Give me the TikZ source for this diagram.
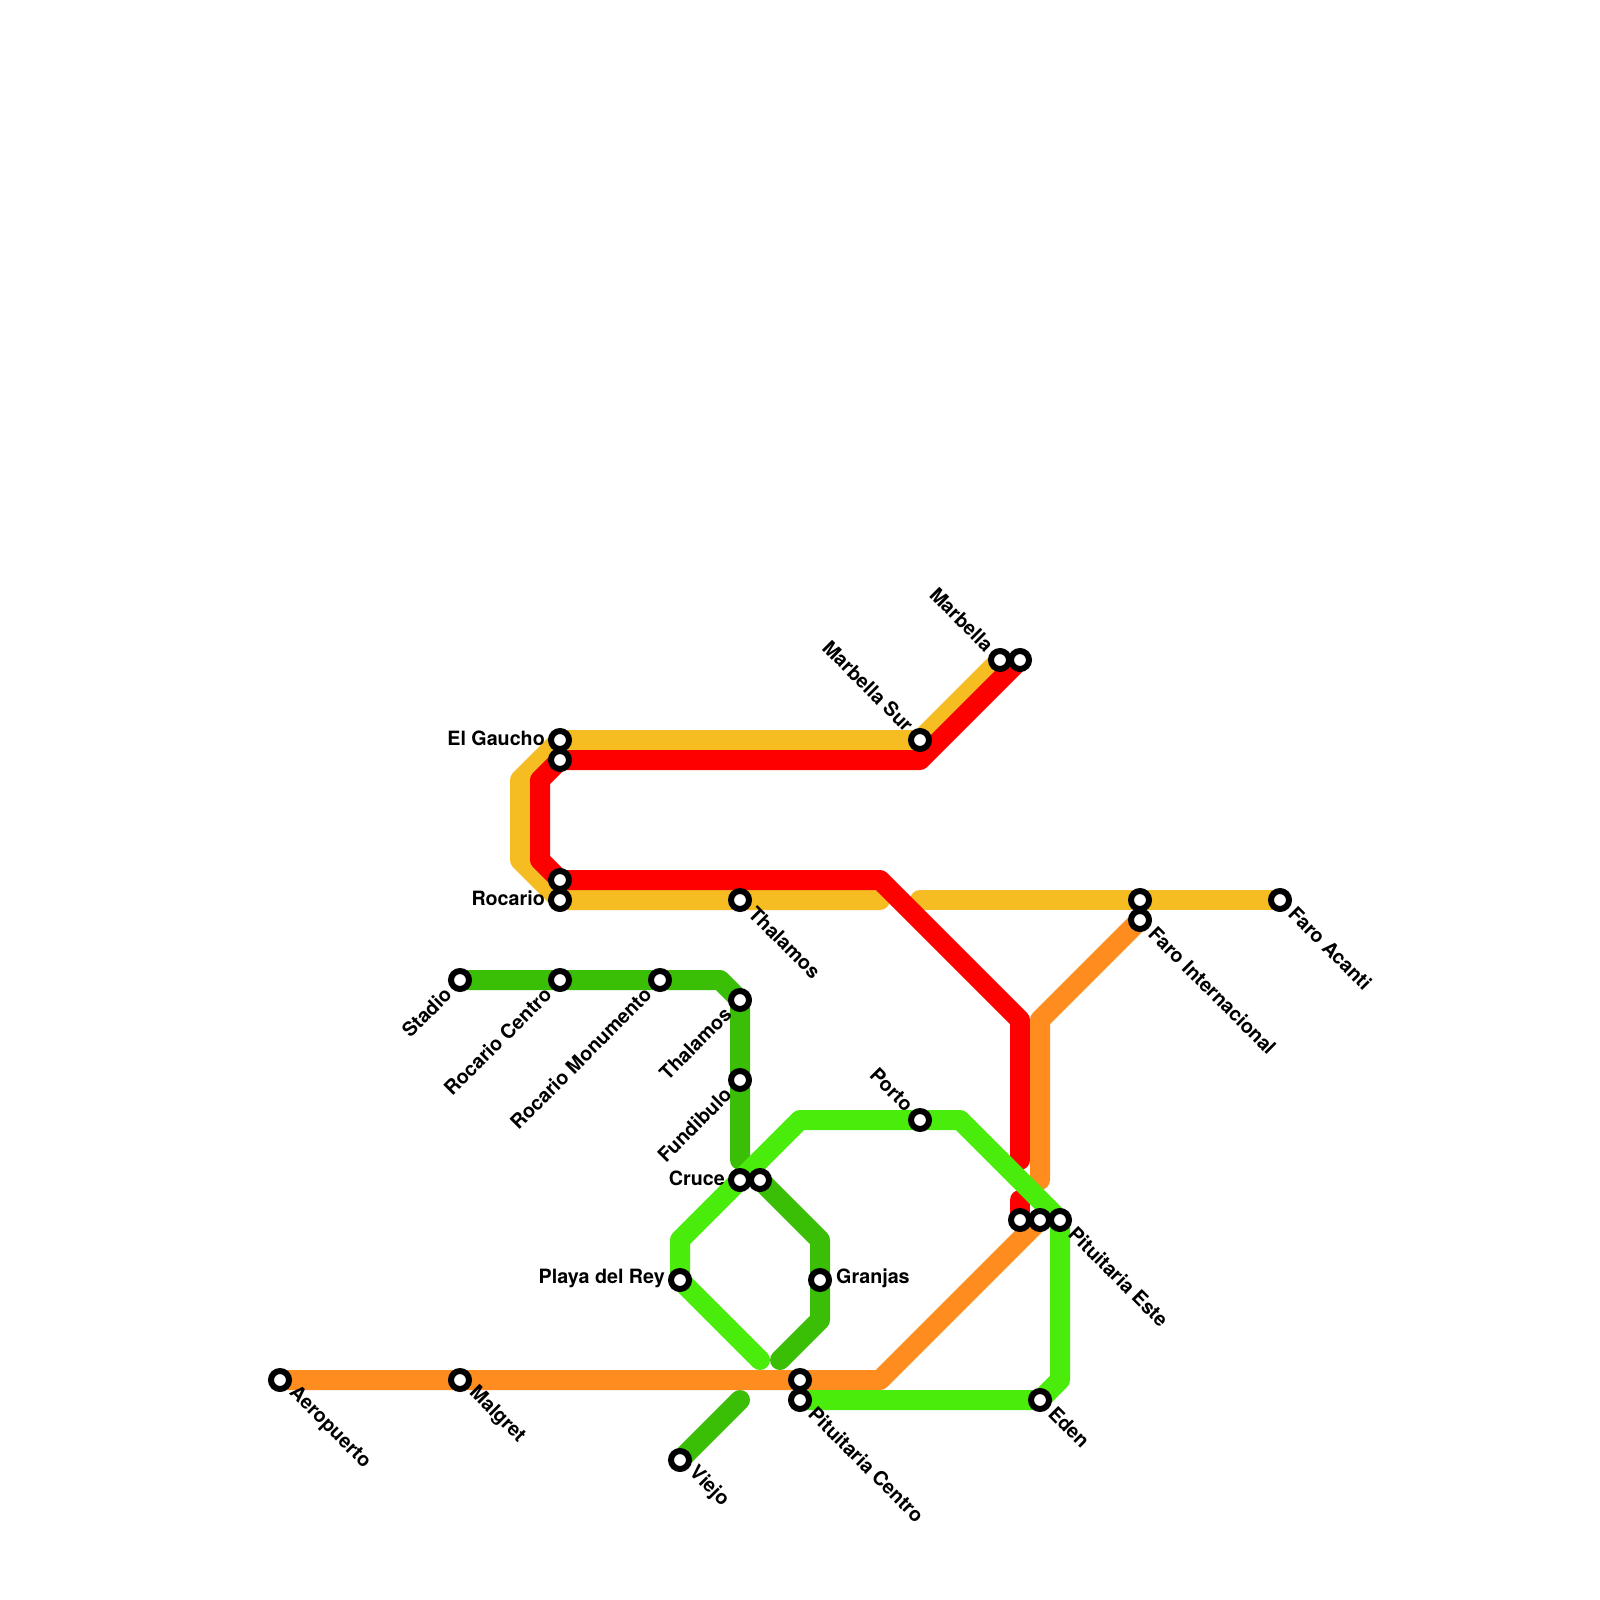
\documentclass[tikz,border=0pt]{standalone}
\usepackage{fontspec}
\setmainfont{TeX Gyre Heros}
\definecolor{lnyellow}{HTML}{F6BD22}
\definecolor{lnred}{HTML}{FF0000}
\definecolor{lnorange}{HTML}{FF8C1F}
\definecolor{lndark}{HTML}{3ABF06}
\definecolor{lnlight}{HTML}{4AEC0B}
\tikzset{
  metro/.style={line width=20pt,line cap=round,line join=round},
  stn/.style={circle,draw=black,fill=white,line width=6pt,minimum size=18pt,inner sep=0pt},
  lbl/.style={text=black,inner sep=0pt,font=\fontsize{19.7}{20}\selectfont\bfseries},
  lblse/.style={lbl,xshift=12pt,yshift=-10pt,rotate=-45,anchor=west},
  lblsw/.style={lbl,xshift=-12pt,yshift=-11pt,rotate=45,anchor=east},
  lblnw/.style={lbl,xshift=-10pt,yshift=12pt,rotate=-45,anchor=east},
  lble/.style={lbl,anchor=west,xshift=16pt,yshift=1.5pt},
  lblw/.style={lbl,anchor=east,xshift=-15pt,yshift=1.5pt}
}
\begin{document}
\begin{tikzpicture}[x=1pt,y=-1pt]
\fill[white] (0,0) rectangle (1600,1600);
\useasboundingbox (0,0) rectangle (1600,1600);
% stations
\coordinate (gaucho) at (560,740);
\coordinate (gauchob) at (560,760);
\coordinate (rocarioa) at (560,880);
\coordinate (rocario) at (560,900);
\coordinate (thal) at (740,900);
\coordinate (stadio) at (460,980);
\coordinate (rcentro) at (560,980);
\coordinate (rmonu) at (660,980);
\coordinate (thalb) at (740,1000);
\coordinate (fund) at (740,1080);
\coordinate (cruce) at (740,1180);
\coordinate (cruceb) at (760,1180);
\coordinate (playa) at (680,1280);
\coordinate (granjas) at (820,1280);
\coordinate (porto) at (920,1120);
\coordinate (msur) at (920,740);
\coordinate (marb) at (1000,660);
\coordinate (marbb) at (1020,660);
\coordinate (pesta) at (1020,1220);
\coordinate (pestb) at (1040,1220);
\coordinate (peste) at (1060,1220);
\coordinate (farob) at (1140,900);
\coordinate (faroi) at (1140,920);
\coordinate (faroa) at (1280,900);
\coordinate (aero) at (280,1380);
\coordinate (malgret) at (460,1380);
\coordinate (pcena) at (800,1380);
\coordinate (pcen) at (800,1400);
\coordinate (eden) at (1040,1400);
\coordinate (viejo) at (680,1460);
% bends and free ends
\coordinate (ya) at (520,780);
\coordinate (yb) at (520,860);
\coordinate (yc) at (880,900);
\coordinate (yd) at (920,900);
\coordinate (ra) at (540,780);
\coordinate (rb) at (540,860);
\coordinate (rc) at (880,880);
\coordinate (rd) at (1020,1020);
\coordinate (re) at (1020,1160);
\coordinate (rf) at (1020,1200);
\coordinate (rg) at (920,760);
\coordinate (oa) at (1040,1020);
\coordinate (ob) at (1040,1180);
\coordinate (oc) at (880,1380);
\coordinate (da) at (720,980);
\coordinate (db) at (740,1160);
\coordinate (dc) at (820,1240);
\coordinate (dd) at (820,1320);
\coordinate (de) at (780,1360);
\coordinate (df) at (740,1400);
\coordinate (la) at (760,1360);
\coordinate (lb) at (680,1240);
\coordinate (lc) at (800,1120);
\coordinate (ld) at (960,1120);
\coordinate (le) at (1060,1380);
% lines
\draw[metro,lnyellow] (marb) -- (msur) -- (gaucho) -- (ya) -- (yb) -- (rocario) -- (yc);
\draw[metro,lnyellow] (yd) -- (faroa);
\draw[metro,lndark] (stadio) -- (da) -- (thalb) -- (db);
\draw[metro,lndark] (cruceb) -- (dc) -- (dd) -- (de);
\draw[metro,lndark] (df) -- (viejo);
\draw[metro,lnred] (marbb) -- (rg) -- (gauchob) -- (ra) -- (rb) -- (rocarioa) -- (rc) -- (rd) -- (re);
\draw[metro,lnred] (rf) -- (pesta);
\draw[metro,lnorange] (faroi) -- (oa) -- (ob);
\draw[metro,lnorange] (pestb) -- (oc) -- (aero);
\draw[metro,lnlight] (la) -- (playa) -- (lb) -- (lc) -- (ld) -- (peste) -- (le) -- (eden) -- (pcen);
% station markers
\foreach \s in {gaucho,gauchob,rocarioa,rocario,thal,stadio,rcentro,rmonu,thalb,fund,cruce,cruceb,playa,granjas,porto,msur,marb,marbb,pesta,pestb,peste,farob,faroi,faroa,aero,malgret,pcena,pcen,eden,viejo}
  \node[stn] (m\s) at (\s) {};
% labels
\node[lblw] (tgaucho) at (gaucho) {El Gaucho};
\node[lblw] (trocario) at (rocario) {Rocario};
\node[lblw] (tcruce) at (cruce) {Cruce};
\node[lblw] (tplaya) at (playa) {Playa del Rey};
\node[lble] (tgranjas) at (granjas) {Granjas};
\node[lblse] (tthal) at (thal) {Thalamos};
\node[lblse] (tfaroi) at (faroi) {Faro Internacional};
\node[lblse] (tfaroa) at (faroa) {Faro Acanti};
\node[lblse] (tpeste) at (peste) {Pituitaria Este};
\node[lblse] (tpcen) at (pcen) {Pituitaria Centro};
\node[lblse] (teden) at (eden) {Eden};
\node[lblse] (tviejo) at (viejo) {Viejo};
\node[lblse] (taero) at (aero) {Aeropuerto};
\node[lblse] (tmalgret) at (malgret) {Malgret};
\node[lblsw] (tstadio) at (stadio) {Stadio};
\node[lblsw] (trcentro) at (rcentro) {Rocario Centro};
\node[lblsw] (trmonu) at (rmonu) {Rocario Monumento};
\node[lblsw] (tthalb) at (thalb) {Thalamos};
\node[lblsw] (tfund) at (fund) {Fundibulo};
\node[lblnw] (tporto) at (porto) {Porto};
\node[lblnw] (tmsur) at (msur) {Marbella Sur};
\node[lblnw] (tmarb) at (marb) {Marbella};
\end{tikzpicture}
\end{document}
